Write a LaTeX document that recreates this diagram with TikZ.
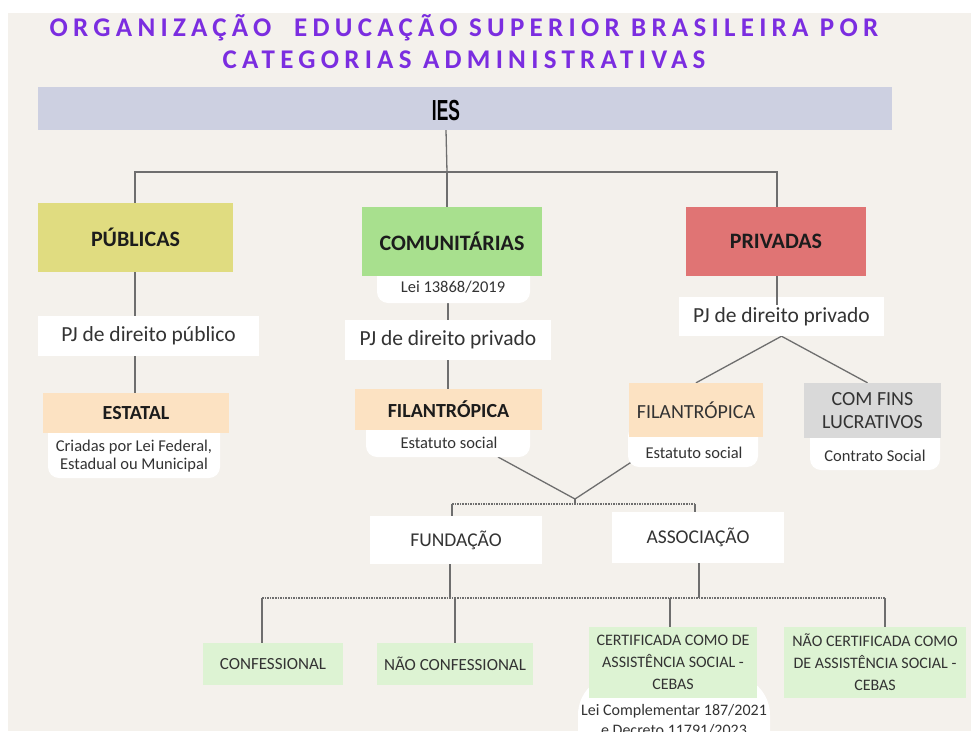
\documentclass[tikz,border=0pt]{standalone}
\usepackage{fontspec}
\setmainfont{Carlito}
\newfontfamily\titlefont[LetterSpace=19.5]{Carlito}
\newfontfamily\iesfont{Liberation Sans}
\usepackage{tikz}
\usetikzlibrary{backgrounds}

\definecolor{bgbeige}{HTML}{F4F1EC}
\definecolor{iesgray}{HTML}{CDD0E1}
\definecolor{pubyellow}{HTML}{E0DC80}
\definecolor{comgreen}{HTML}{A8E08E}
\definecolor{prired}{HTML}{E07474}
\definecolor{peach}{HTML}{FCE2C2}
\definecolor{lightgray}{HTML}{D9D9D9}
\definecolor{palegreen}{HTML}{DDF3D3}
\definecolor{titlepurple}{HTML}{7B2DE0}
\definecolor{linkgray}{HTML}{6E6E6E}
\definecolor{txtdark}{HTML}{1C1C1C}
\definecolor{txtsoft}{HTML}{333333}

\begin{document}
\begin{tikzpicture}[x=1pt,y=-1pt,
  box/.style={rectangle, inner sep=0pt, align=center},
  catbox/.style={box, text=txtdark, font=\bfseries\fontsize{22}{26}\selectfont},
  subbox/.style={box, text=txtdark, font=\bfseries\fontsize{20}{24}\selectfont},
  pjbox/.style={box, fill=white, text=txtsoft, font=\fontsize{21.5}{26}\selectfont},
  plainbox/.style={box, text=txtsoft, font=\fontsize{20}{23}\selectfont},
  leafbox/.style={box, fill=palegreen, text=txtsoft, font=\fontsize{16}{22}\selectfont},
  notebox/.style={box, fill=white, rounded corners=11pt},
  notetext/.style={box, text=txtsoft, font=\fontsize{16.5}{18}\selectfont},
  link/.style={draw=linkgray, line width=1.3pt},
  bus/.style={draw=linkgray, line width=1.6pt, densely dotted}]

\useasboundingbox (0,0) rectangle (971,731);

% title
\node[box, text=titlepurple, font=\titlefont\bfseries\fontsize{27}{30}\selectfont] (title1) at (464,28) {ORGANIZAÇÃO\ \ EDUCAÇÃO SUPERIOR BRASILEIRA POR};
\node[box, text=titlepurple, font=\titlefont\bfseries\fontsize{27}{30}\selectfont] (title2) at (464,60) {CATEGORIAS ADMINISTRATIVAS};

% top level
\node[box, fill=iesgray, minimum width=854, minimum height=43] (ies) at (465,108.5) {};
\node[box, text=black, font=\iesfont\bfseries\fontsize{29}{30}\selectfont] (iestxt) at (446,111) {\scalebox{0.6}[1]{IES}};

% notes under boxes
\node[notebox, minimum width=153, minimum height=39] (lei) at (453.5,283.5) {};
\node[notetext] (leitxt) at (453,287) {Lei 13868/2019};
\node[notebox, minimum width=172, minimum height=58] (estnote) at (134,449) {};
\node[notetext, font=\fontsize{16.5}{18.5}\selectfont] (esttxt) at (134,456) {Criadas por Lei Federal,\\Estadual ou Municipal};
\node[notebox, minimum width=164, minimum height=39] (cfilnote) at (448,437.5) {};
\node[notetext] (cfiltxt) at (449,443) {Estatuto social};
\node[notebox, minimum width=130, minimum height=42] (pfilnote) at (693,446) {};
\node[notetext] (pfiltxt) at (694,453) {Estatuto social};
\node[notebox, minimum width=130, minimum height=44] (finsnote) at (875,448) {};
\node[notetext] (finstxt) at (875,456) {Contrato Social};
\node[notebox, rounded corners=40pt, minimum width=192, minimum height=100] (certnote) at (674,725) {};
\node[notetext, font=\fontsize{16}{20}\selectfont] (certtxt) at (674,720) {Lei Complementar 187/2021\\e Decreto 11791/2023};

% categories
\node[catbox, fill=pubyellow, minimum width=195, minimum height=69] (pub) at (135.5,237.5) {PÚBLICAS};
\node[catbox, fill=comgreen, minimum width=180, minimum height=69] (comu) at (452,241.5) {COMUNITÁRIAS};
\node[catbox, fill=prired, minimum width=180, minimum height=69] (pri) at (776,241.5) {PRIVADAS};

\node[pjbox, minimum width=221, minimum height=40] (pjpub) at (148.5,336) {PJ de direito público};
\node[pjbox, minimum width=206, minimum height=40] (pjcom) at (448,340) {PJ de direito privado};
\node[pjbox, minimum width=205, minimum height=39] (pjpri) at (781.5,316.5) {PJ de direito privado};

\node[subbox, fill=peach, minimum width=186, minimum height=40] (estatal) at (136,413) {ESTATAL};
\node[subbox, fill=peach, minimum width=187, minimum height=41] (cfil) at (448.5,409.5) {FILANTRÓPICA};
\node[plainbox, fill=peach, minimum width=134, minimum height=54] (pfil) at (696,410) {FILANTRÓPICA};
\node[plainbox, fill=lightgray, minimum width=137, minimum height=55] (fins) at (872.5,410.5) {COM FINS\\LUCRATIVOS};

\node[plainbox, fill=white, font=\fontsize{19.5}{23}\selectfont, minimum width=172, minimum height=48] (fund) at (456,540) {FUNDAÇÃO};
\node[plainbox, fill=white, font=\fontsize{19.5}{23}\selectfont, minimum width=172, minimum height=51] (assoc) at (698,537.5) {ASSOCIAÇÃO};

\node[leafbox, font=\fontsize{17}{22}\selectfont, minimum width=140, minimum height=42] (conf) at (273,664) {CONFESSIONAL};
\node[leafbox, font=\fontsize{17}{22}\selectfont, minimum width=156, minimum height=42] (nconf) at (455,664) {NÃO CONFESSIONAL};
\node[leafbox, minimum width=168, minimum height=71] (cert) at (673,662.5) {CERTIFICADA COMO DE\\ASSISTÊNCIA SOCIAL -\\CEBAS};
\node[leafbox, minimum width=182, minimum height=71] (ncert) at (875,662.5) {NÃO CERTIFICADA COMO\\DE ASSISTÊNCIA SOCIAL -\\CEBAS};

% joints
\coordinate (top) at (447,172);
\coordinate (merge) at (575,499);
\coordinate (bus1) at (575,504);
\coordinate (bus2) at (575,598);
\coordinate (cfilend) at (498,457);
\coordinate (pfilend) at (633,461);
\coordinate (pritip) at (777,305);

\begin{scope}[on background layer]
\fill[bgbeige] (8,13) rectangle (971,731);
\draw[link] (iestxt |- ies.south) -- (top);
\draw[link] ([xshift=-0.5]pub.north) |- (top) -| ([xshift=1]pri.north);
\draw[link] (top) -- (top |- comu.north);
\draw[link] ([xshift=-0.5]pub.south) -- ([xshift=-0.5]pub.south |- estatal.north);
\draw[link] (comu.south -| pjcom) -- (cfil.north -| pjcom);
\draw[link] (pjpri.south) -- (pfil.north);
\draw[link] (pjpri.south) -- ([xshift=-5]fins.north);
\draw[link] (cfilend) -- (merge) -- (pfilend);
\draw[link] (merge) -- (bus1);
\draw[bus] (bus1 -| {(452,0)}) -- (bus1 -| {(695,0)});
\draw[link] (bus1 -| {(452,0)}) -- ([xshift=-4]fund.north);
\draw[link] (bus1 -| {(695,0)}) -- ([xshift=-3]assoc.north);
\draw[link] ([xshift=-6]fund.south) -- (bus2 -| {(450,0)});
\draw[link] ([xshift=1]assoc.south) -- (bus2 -| {(699,0)});
\draw[bus] (bus2 -| {(262,0)}) -- (bus2 -| {(885,0)});
\draw[link] (bus2 -| {(262,0)}) -- ([xshift=-11]conf.north);
\draw[link] (bus2 -| nconf) -- (nconf.north);
\draw[link] (bus2 -| {(670,0)}) -- ([xshift=-3]cert.north);
\draw[link] (bus2 -| {(885,0)}) -- ([xshift=10]ncert.north);
\end{scope}
\draw[link] (pri.south -| pritip) -- (pritip);

\end{tikzpicture}
\end{document}
